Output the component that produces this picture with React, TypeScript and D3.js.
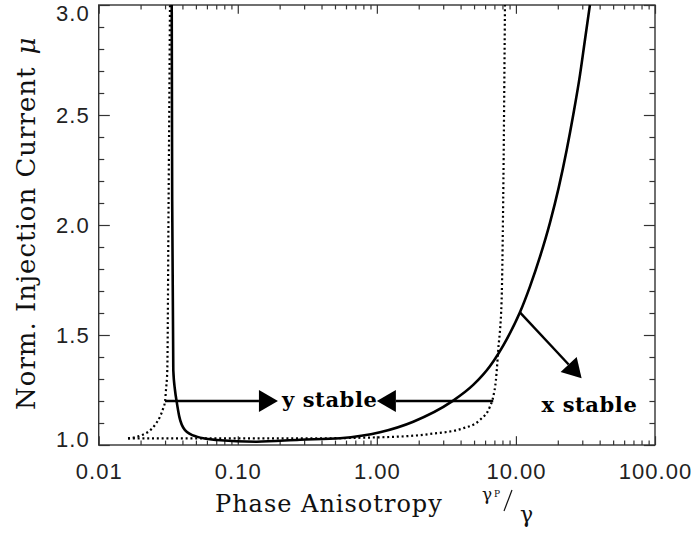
import { useEffect, useRef } from 'react'
import * as d3 from 'd3'

// log x axis (gamma_p / gamma), linear y axis (mu)
const X_TICKS = [0.01, 0.1, 1, 10, 100]
const X_TICK_LABELS = ['0.01', '0.10', '1.00', '10.00', '100.00']
const Y_TICKS = [1.0, 1.5, 2.0, 2.5, 3.0]
const Y_TICK_LABELS = ['1.0', '1.5', '2.0', '2.5', '3.0']

// solid boundary
const SOLID_X = [0.0335, 0.03376, 0.03438, 0.03536, 0.03636, 0.03797, 0.04173, 0.0506, 0.0705, 0.1368, 0.28, 0.543, 1.053, 1.827, 3.449, 4.93, 6.5, 8.58, 10.69, 12.61, 14.88, 17.56, 20.3, 23.15, 25.82, 28.85, 31.33, 34.04]
const SOLID_MU = [3.0, 2.114, 1.341, 1.25, 1.197, 1.129, 1.068, 1.038, 1.023, 1.015, 1.024, 1.031, 1.058, 1.106, 1.197, 1.273, 1.358, 1.48, 1.603, 1.72, 1.855, 2.01, 2.17, 2.34, 2.5, 2.68, 2.84, 3.0]

// dotted boundary, left hook
const DOT_LEFT_X = [0.01625, 0.01679, 0.02037, 0.02273, 0.0254, 0.02759, 0.02913, 0.02996, 0.03046, 0.03113, 0.0318, 0.03255]
const DOT_LEFT_MU = [1.03, 1.031, 1.045, 1.06, 1.091, 1.129, 1.168, 1.197, 1.25, 1.341, 2.1, 3.0]

// dotted boundary, bottom and right branch
const DOT_RIGHT_X = [0.01625, 0.0535, 0.28, 1.053, 2.408, 4.18, 5.51, 6.5, 6.87, 7.18, 7.46, 7.89, 8.1, 8.34]
const DOT_RIGHT_MU = [1.03, 1.03, 1.03, 1.035, 1.05, 1.076, 1.114, 1.174, 1.22, 1.295, 1.432, 1.659, 2.114, 3.0]

// annotations: [x0, mu0, x1(tip), mu1(tip)]
const ARROWS = [
  [0.02996, 1.2, 0.1945, 1.2],
  [6.87, 1.2, 1.0, 1.2],
  [10.69, 1.603, 29.67, 1.303],
]
const LABELS = [
  { text: 'y stable', x: 0.2079, mu: 1.172 },
  { text: 'x stable', x: 15.3, mu: 1.151 },
]

export default function App() {
  const ref = useRef<SVGSVGElement>(null)

  useEffect(() => {
    const W = 696, H = 533
    const M = { top: 5, right: 41, bottom: 88, left: 98.7 }
    const iw = W - M.left - M.right
    const ih = H - M.top - M.bottom

    const svg = d3.select(ref.current)
    svg.selectAll('*').remove()

    const x = d3.scaleLog().domain([0.01, 100]).range([M.left, W - M.right])
    const y = d3.scaleLinear().domain([1, 3]).range([H - M.bottom, M.top])

    const xMinor: number[] = []
    for (let i = 0; i < 4; i++) for (let k = 2; k <= 9; k++) xMinor.push(k * X_TICKS[i])
    const yMinor = d3.range(11, 30).map(v => v / 10).filter(v => Math.abs(v * 2 - Math.round(v * 2)) > 1e-6)

    const xTL = ih * 0.02, yTL = iw * 0.02
    const axisColor = '#333'
    const tickFont = '"Liberation Sans", Arial, sans-serif'

    const style = (s: any) => {
      s.select('.domain').remove()
      s.selectAll('line').attr('stroke', axisColor).attr('stroke-width', 1.2)
      s.selectAll('text').attr('fill', '#222').attr('font-family', tickFont).attr('font-size', 22).attr('letter-spacing', 1)
    }

    // bottom
    svg.append('g').attr('transform', `translate(0,${H - M.bottom})`)
      .call(d3.axisBottom(x).tickValues(X_TICKS).tickFormat((d, i) => X_TICK_LABELS[i]).tickSizeInner(-xTL).tickSizeOuter(0).tickPadding(18))
      .call(style)
    svg.append('g').attr('transform', `translate(0,${H - M.bottom})`)
      .call(d3.axisBottom(x).tickValues(xMinor).tickFormat(() => '').tickSizeInner(-xTL / 2).tickSizeOuter(0))
      .call(style)
    // top
    svg.append('g').attr('transform', `translate(0,${M.top})`)
      .call(d3.axisTop(x).tickValues(X_TICKS).tickFormat(() => '').tickSizeInner(-xTL).tickSizeOuter(0))
      .call(style)
    svg.append('g').attr('transform', `translate(0,${M.top})`)
      .call(d3.axisTop(x).tickValues(xMinor).tickFormat(() => '').tickSizeInner(-xTL / 2).tickSizeOuter(0))
      .call(style)
    // left
    const yl = svg.append('g').attr('transform', `translate(${M.left},0)`)
      .call(d3.axisLeft(y).tickValues(Y_TICKS).tickFormat((d, i) => Y_TICK_LABELS[i]).tickSizeInner(-yTL).tickSizeOuter(0).tickPadding(9))
      .call(style)
    yl.selectAll('text').attr('transform', (d: any) => d === 3 ? 'translate(0,8)' : d === 1 ? 'translate(0,-6)' : null)
    svg.append('g').attr('transform', `translate(${M.left},0)`)
      .call(d3.axisLeft(y).tickValues(yMinor).tickFormat(() => '').tickSizeInner(-yTL / 2).tickSizeOuter(0))
      .call(style)
    // right
    svg.append('g').attr('transform', `translate(${W - M.right},0)`)
      .call(d3.axisRight(y).tickValues(Y_TICKS).tickFormat(() => '').tickSizeInner(-yTL).tickSizeOuter(0))
      .call(style)
    svg.append('g').attr('transform', `translate(${W - M.right},0)`)
      .call(d3.axisRight(y).tickValues(yMinor).tickFormat(() => '').tickSizeInner(-yTL / 2).tickSizeOuter(0))
      .call(style)

    svg.append('rect')
      .attr('x', M.left).attr('y', M.top).attr('width', iw).attr('height', ih)
      .attr('fill', 'none').attr('stroke', axisColor).attr('stroke-width', 1.4)

    const line = d3.line<[number, number]>()
      .x(d => x(d[0])).y(d => y(d[1]))
      .curve(d3.curveMonotoneX)

    const clip = svg.append('clipPath').attr('id', 'plot-clip')
    clip.append('rect').attr('x', M.left).attr('y', M.top - 1).attr('width', iw).attr('height', ih + 1)
    const plot = svg.append('g').attr('clip-path', 'url(#plot-clip)')

    plot.append('path')
      .datum(SOLID_X.map((v, i) => [v, SOLID_MU[i]] as [number, number]))
      .attr('fill', 'none').attr('stroke', '#000').attr('stroke-width', 2.6)
      .attr('d', line)

    ;[[DOT_LEFT_X, DOT_LEFT_MU], [DOT_RIGHT_X, DOT_RIGHT_MU]].forEach(([xs, ms]) => {
      plot.append('path')
        .datum(xs.map((v, i) => [v, ms[i]] as [number, number]))
        .attr('fill', 'none').attr('stroke', '#000').attr('stroke-width', 2.2)
        .attr('stroke-dasharray', '2,2.8')
        .attr('d', line)
    })

    // arrows
    ARROWS.forEach(([ax0, am0, ax1, am1]) => {
      const x0 = x(ax0), y0 = y(am0), x1 = x(ax1), y1 = y(am1)
      const ang = Math.atan2(y1 - y0, x1 - x0)
      const hl = 19, hw = 11
      const bx = x1 - hl * Math.cos(ang), by = y1 - hl * Math.sin(ang)
      svg.append('line')
        .attr('x1', x0).attr('y1', y0).attr('x2', bx).attr('y2', by)
        .attr('stroke', '#000').attr('stroke-width', 2.4)
      const px = -Math.sin(ang), py = Math.cos(ang)
      svg.append('path')
        .attr('d', `M${x1},${y1}L${bx + hw * px},${by + hw * py}L${bx - hw * px},${by - hw * py}Z`)
        .attr('fill', '#000')
    })

    const serif = '"DejaVu Serif", "Liberation Serif", serif'
    LABELS.forEach(l => {
      svg.append('text')
        .attr('x', x(l.x)).attr('y', y(l.mu))
        .attr('font-family', serif).attr('font-size', 21).attr('font-weight', 'bold')
        .attr('letter-spacing', 0.6)
        .attr('fill', '#000')
        .text(l.text)
    })

    // axis titles
    svg.append('text')
      .attr('x', 215).attr('y', 512)
      .attr('font-family', serif).attr('font-size', 24).attr('letter-spacing', 1).attr('fill', '#111')
      .text('Phase Anisotropy')

    const gl = svg.append('g').attr('font-family', serif).attr('fill', '#111')
    gl.append('text').attr('x', 482).attr('y', 500).attr('font-size', 17).text('γ')
    gl.append('text').attr('x', 494).attr('y', 497).attr('font-size', 9).text('P')
    gl.append('line').attr('x1', 512).attr('y1', 490).attr('x2', 504).attr('y2', 511)
      .attr('stroke', '#111').attr('stroke-width', 1.2)
    gl.append('text').attr('x', 520).attr('y', 522).attr('font-size', 22).text('γ')

    const yt = svg.append('text')
      .attr('transform', `translate(35,410) rotate(-90)`)
      .attr('font-family', serif).attr('font-size', 26).attr('letter-spacing', 1).attr('fill', '#111')
    yt.append('tspan').text('Norm. Injection Current')
    yt.append('tspan').attr('dx', 12).attr('font-style', 'italic').text('μ')
  }, [])

  return (
    <svg ref={ref} width={696} height={533}
      style={{ position: 'absolute', left: 0, top: 0, background: '#fff', display: 'block' }} />
  )
}
